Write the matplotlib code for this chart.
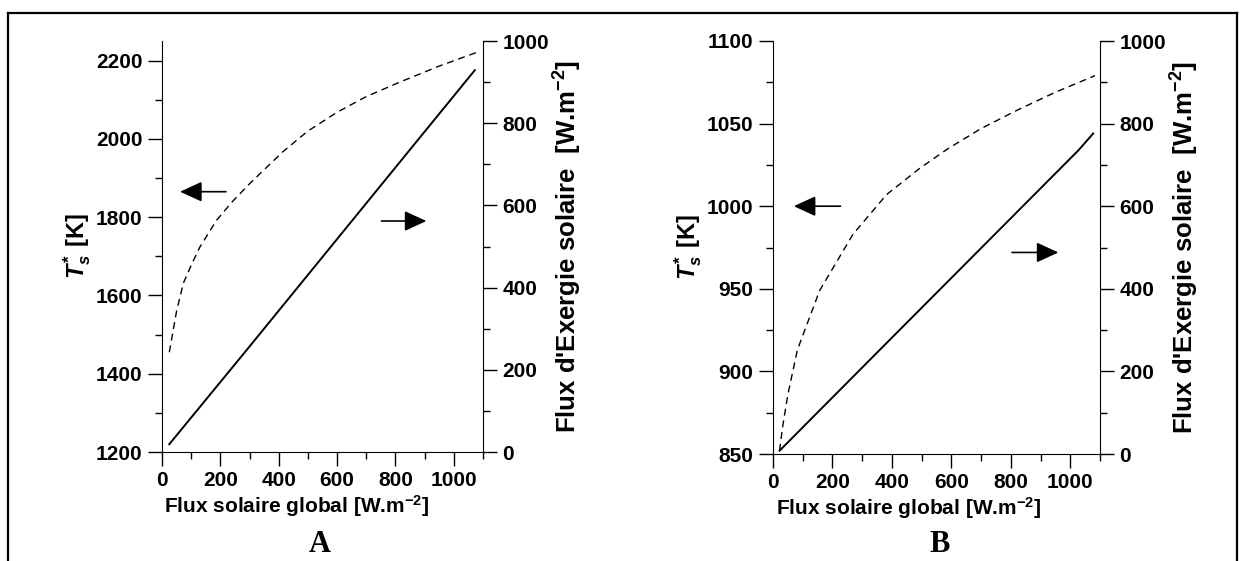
import matplotlib
matplotlib.use("Agg")
import matplotlib.pyplot as plt
from matplotlib.lines import Line2D
from matplotlib.ticker import MultipleLocator

# ---------------------- data ----------------------
# Panel A
flux_a_T = [25, 50, 73, 100, 130, 187, 244, 301, 414, 500, 600, 700, 815, 950, 1079]
temp_a = [1455, 1560, 1631, 1677, 1724, 1792, 1842, 1886, 1967, 2020, 2068, 2108,
          2145, 2186, 2221]
flux_a_E = [25, 290, 849, 1072]
exergy_a = [19, 248, 735, 929]

# Panel B
flux_b_T = [22, 32, 50, 82, 157, 269, 382, 494, 590, 700, 820, 950, 1083]
temp_b = [852, 866, 886, 913, 949, 983, 1007, 1023, 1035, 1047, 1058, 1069, 1079]
flux_b_E = [22, 359, 1027, 1077]
exergy_b = [8, 252, 735, 776]

x_ticks = [0, 200, 400, 600, 800, 1000]
exergy_ticks = [0, 200, 400, 600, 800, 1000]
temp_ticks_a = [1200, 1400, 1600, 1800, 2000, 2200]
temp_ticks_b = [850, 900, 950, 1000, 1050, 1100]

plt.rcParams["font.family"] = "Liberation Sans"
plt.rcParams["font.weight"] = "bold"
plt.rcParams["mathtext.fontset"] = "custom"
plt.rcParams["mathtext.rm"] = "Liberation Sans:bold"
plt.rcParams["mathtext.it"] = "Liberation Sans:italic:bold"
plt.rcParams["mathtext.bf"] = "Liberation Sans:bold"

FS_TICK = 15
FS_XLAB = 15
FS_RLAB = 18.5
FS_LLAB = 16
DASH = (0, (5, 3.5))


def style_axis(ax):
    ax.spines["top"].set_visible(False)
    ax.tick_params(axis="both", which="major", direction="out", length=10,
                   width=1, labelsize=FS_TICK, pad=4)
    ax.tick_params(axis="both", which="minor", direction="out", length=5,
                   width=1)
    for lab in ax.get_yticklabels() + ax.get_xticklabels():
        lab.set_fontweight("bold")


def panel(rect, flux_T, temp, flux_E, exergy, tlim, tticks, tminor,
          arrow_l, arrow_r, letter, letter_x, xlab_pos):
    ax = fig.add_axes(rect)
    ax2 = ax.twinx()

    ax.plot(flux_T, temp, color="black", lw=1.0, linestyle=DASH, clip_on=False)
    ax2.plot(flux_E, exergy, color="black", lw=1.4, clip_on=False)

    ax.set_xlim(0, 1100)
    ax.set_xticks(x_ticks)
    ax.xaxis.set_minor_locator(MultipleLocator(100))
    ax.set_ylim(*tlim)
    ax.set_yticks(tticks)
    ax.yaxis.set_minor_locator(MultipleLocator(tminor))

    ax2.set_ylim(0, 1000)
    ax2.set_yticks(exergy_ticks)
    ax2.yaxis.set_minor_locator(MultipleLocator(100))

    style_axis(ax)
    style_axis(ax2)
    ax.spines["right"].set_visible(False)
    ax2.spines["left"].set_visible(False)
    ax2.spines["bottom"].set_visible(False)

    ax.set_xlabel("Flux solaire global [W.m$^{\\mathrm{-2}}$]", fontsize=FS_XLAB,
                  fontweight="bold")
    ax.xaxis.set_label_coords(xlab_pos, -0.1)
    ax.set_ylabel("$T_s^{\\mathrm{*}\\,}$ [K]", fontsize=FS_LLAB + 1,
                  fontweight="bold", labelpad=2)
    ax2.set_ylabel("Flux d'Exergie solaire  [W.m$^{\\mathrm{-2}}$]",
                   fontsize=FS_RLAB, fontweight="bold", labelpad=2)

    arrow_kw = dict(arrowstyle="-|>,head_length=0.5,head_width=0.23",
                    mutation_scale=27, color="black", lw=1.2,
                    shrinkA=0, shrinkB=0)
    (x0, x1, yl) = arrow_l
    ax.annotate("", xy=(x1, yl), xytext=(x0, yl), arrowprops=arrow_kw)
    (x0, x1, yr) = arrow_r
    ax2.annotate("", xy=(x1, yr), xytext=(x0, yr), arrowprops=arrow_kw)

    fig.text(letter_x, 1 - 545 / 561, letter, family="Liberation Serif",
             fontsize=22, fontweight="bold", ha="center", va="center")
    return ax, ax2


fig = plt.figure(figsize=(12.45, 5.61), dpi=100)

panel([162 / 1245, 1 - 452 / 561, 321 / 1245, 411 / 561],
      flux_a_T, temp_a, flux_a_E, exergy_a,
      (1200, 2250), temp_ticks_a, 100,
      (219, 62, 1865), (752, 906, 562), "A", 320 / 1245, 0.42)

panel([773 / 1245, 1 - 454 / 561, 327 / 1245, 413 / 561],
      flux_b_T, temp_b, flux_b_E, exergy_b,
      (850, 1100), temp_ticks_b, 25,
      (227, 70, 1000), (804, 960, 488), "B", 940 / 1245, 0.415)

# outer frame around the figure (open at the bottom)
W, H = 1245.0, 561.0
frame_kw = dict(color="black", lw=1.6, transform=fig.transFigure)
fig.add_artist(Line2D([8 / W, 1237 / W], [1 - 13 / H, 1 - 13 / H], **frame_kw))
fig.add_artist(Line2D([8 / W, 8 / W], [0, 1 - 13 / H], **frame_kw))
fig.add_artist(Line2D([1237 / W, 1237 / W], [0, 1 - 13 / H], **frame_kw))

fig.savefig("out.png", dpi=100)
plt.close(fig)
